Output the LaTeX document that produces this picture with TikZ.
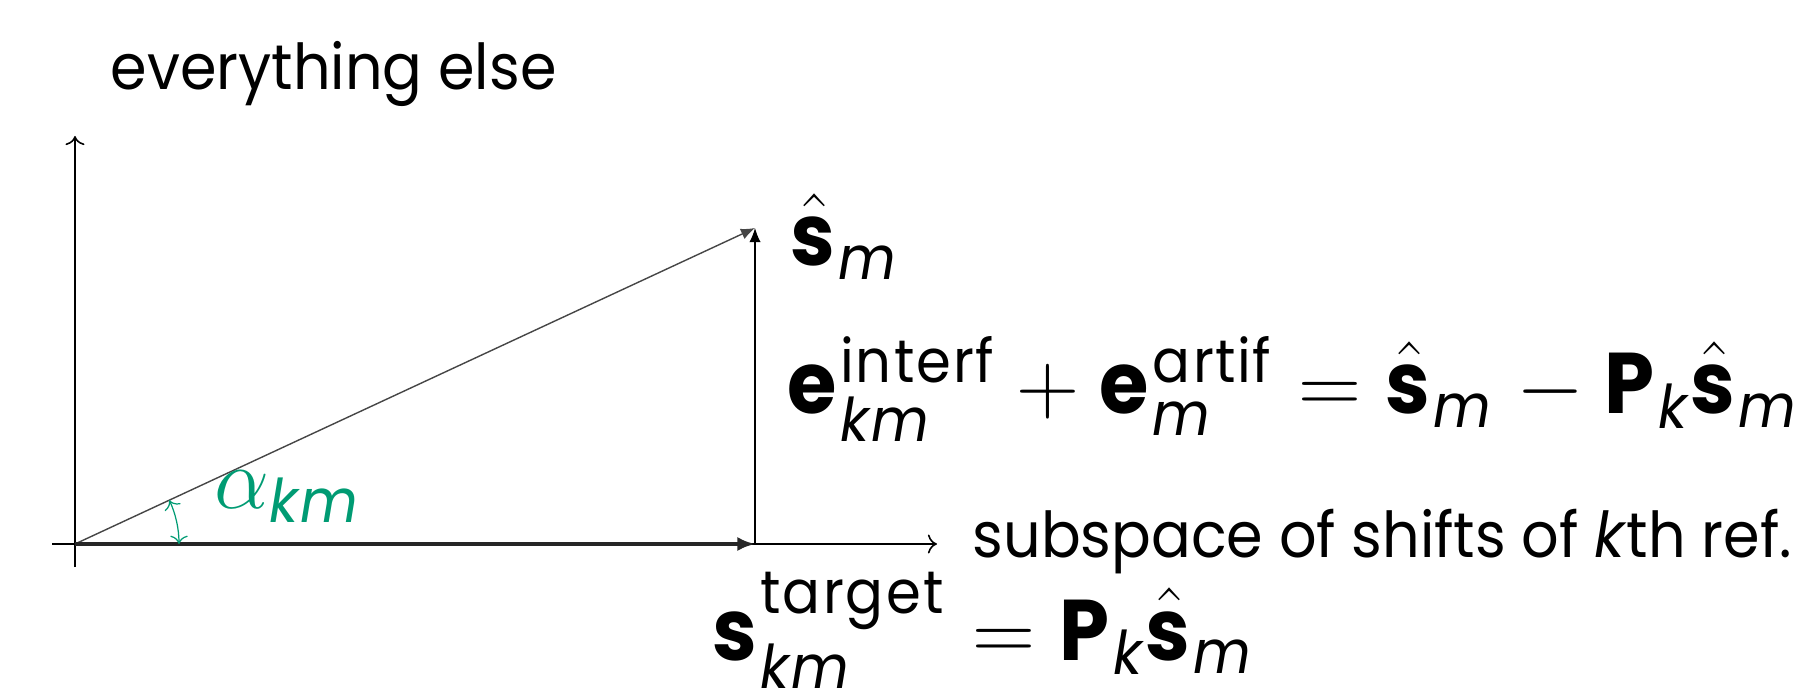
\documentclass[tikz,border=0pt]{standalone}
\usepackage{amsmath}
\usepackage{fontspec}
\setmainfont[FakeStretch=0.93]{Poppins}
\usepackage{tikz}
\usetikzlibrary{arrows.meta, positioning, angles}
\definecolor{cAngle}{RGB}{0,155,115}
\definecolor{cVec}{RGB}{70,70,70}
\newcommand{\shat}{\hat{\mathbf{s}}}
\newcommand{\txtsize}{\fontsize{18}{22}\selectfont}
\newcommand{\eqsize}{\fontsize{24.5}{29}\selectfont}
\tikzset{
	axis/.style    ={->, line width=0.45pt},
	vecline/.style ={-{Latex[length=4pt, width=3.2pt]}, line width=0.4pt, cVec},
	projline/.style={-{Latex[length=5pt, width=4pt]}, line width=1pt, black!85},
	errline/.style ={-{Latex[length=4pt, width=3.2pt]}, line width=0.35pt},
	anglearc/.style={draw=cAngle, <->, line width=0.35pt},
	lbl/.style     ={inner sep=0pt, anchor=base west},
}
\begin{document}
\begin{tikzpicture}
	\useasboundingbox (-0.75,-1.49) rectangle (17.39,5.44);
	% points
	\coordinate (O) at (0,0);
	\coordinate (S) at (6.80,3.16);
	\coordinate (P) at (6.80,0);
	\coordinate (xstart) at (-0.23,0);
	\coordinate (xtip) at (8.62,0);
	\coordinate (ystart) at (0,-0.23);
	\coordinate (ytip) at (0,4.08);
	% axes
	\draw[axis] (xstart) -- (xtip);
	\draw[axis] (ystart) -- (ytip);
	% vectors
	\draw[vecline] (O) -- (S);
	\draw[errline] (P) -- (S);
	\draw[projline] (O) -- (P);
	\pic[anglearc, angle radius=1.04cm] {angle=P--O--S};
	% labels
	\node[lbl, font=\txtsize] (yname) at (0.35,4.54) {everything else};
	\node[inner sep=0pt, anchor=mid west, font=\txtsize] (xname) at (8.97,-0.04) {subspace of shifts of \textit{k}th ref.};
	\node[lbl, font=\eqsize] (sname) at (7.15,2.78) {$\shat_{\mathit{m}}$};
	\node[lbl, font=\eqsize] (ename) at (7.12,1.30)
		{$\mathbf{e}^{\mathrm{interf}}_{\mathit{km}} + \mathbf{e}^{\mathrm{artif}}_{\mathit{m}} = \shat_{\mathit{m}} - \mathbf{P}_{\mathit{k}}\shat_{\mathit{m}}$};
	\node[lbl, font=\eqsize] (tname) at (6.37,-1.16)
		{$\mathbf{s}^{\mathrm{target}}_{\mathit{km}} = \mathbf{P}_{\mathit{k}}\shat_{\mathit{m}}$};
	\node[lbl, font=\eqsize, text=cAngle] (aname) at (1.39,0.36) {$\alpha_{\mathit{km}}$};
\end{tikzpicture}
\end{document}
